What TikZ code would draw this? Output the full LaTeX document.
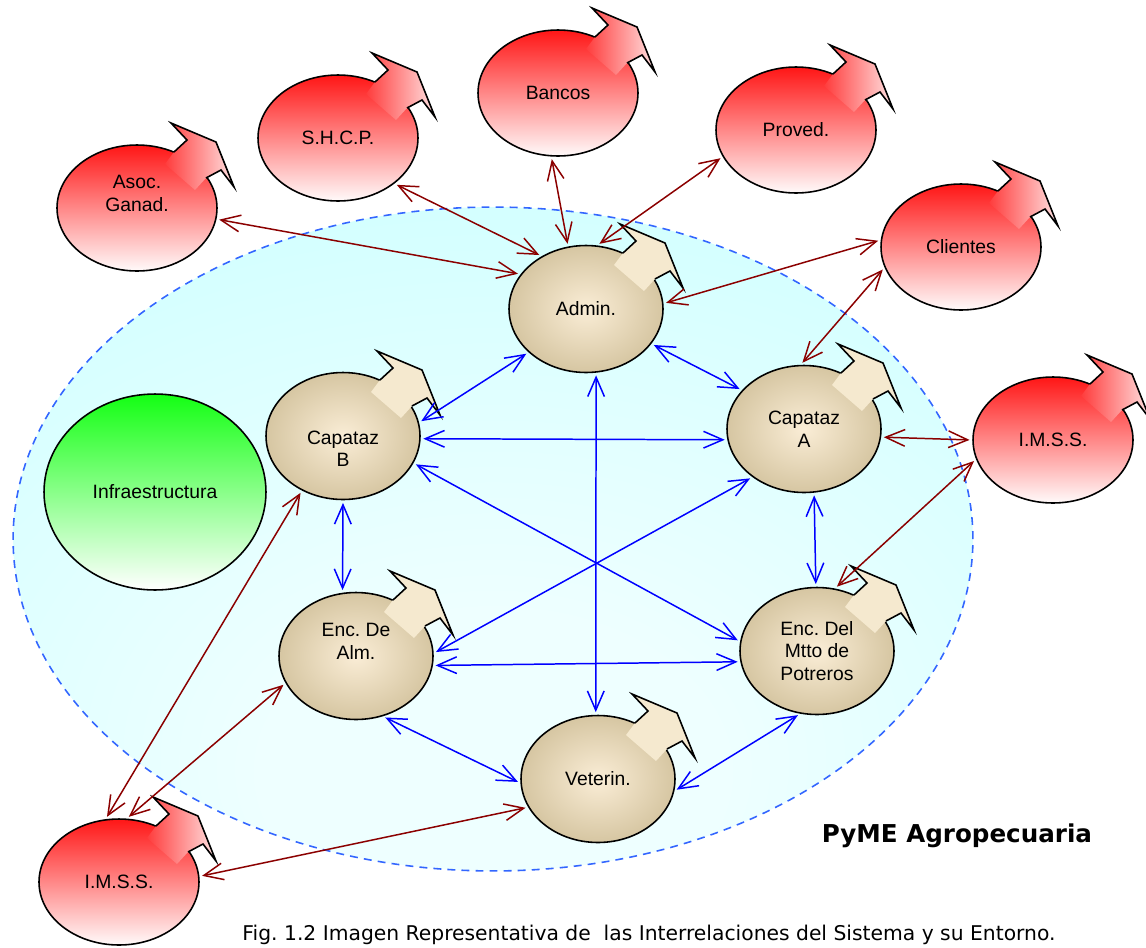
\documentclass[tikz,border=0pt]{standalone}
\usepackage{fontspec}
\setmainfont{Liberation Sans}
\newfontfamily\capfont{DejaVu Sans}
\usetikzlibrary{shapes.geometric,arrows.meta}
\frenchspacing

\definecolor{linkred}{RGB}{139,0,0}
\definecolor{linkblue}{RGB}{0,0,255}
\definecolor{pondline}{RGB}{51,102,255}
\definecolor{pondin}{RGB}{238,255,255}
\definecolor{pondout}{RGB}{204,255,255}
\definecolor{hotred}{RGB}{255,22,22}
\definecolor{palered}{RGB}{255,250,250}
\definecolor{flagred}{RGB}{255,60,60}
\definecolor{flagpink}{RGB}{255,225,225}
\definecolor{creamin}{RGB}{250,237,214}
\definecolor{creamout}{RGB}{214,198,162}
\definecolor{creamflag}{RGB}{245,233,207}
\definecolor{leafgreen}{RGB}{20,255,20}

% light water-like fill of the system boundary, brighter towards the bottom
\pgfdeclareradialshading{pond}{\pgfpoint{0bp}{-20bp}}{color(0bp)=(pondin); color(12bp)=(pondin); color(45bp)=(pondout); color(100bp)=(pondout)}

\tikzset{
  nodefont/.style={font=\fontsize{11}{13}\selectfont, align=center},
  outer/.style={ellipse, draw, line width=0.9pt, minimum width=3.2cm, minimum height=2.52cm,
    inner sep=0pt, top color=hotred, bottom color=palered, nodefont},
  inner/.style={ellipse, draw, line width=0.9pt, minimum width=3.08cm, minimum height=2.54cm,
    inner sep=0pt, inner color=creamin, outer color=creamout, nodefont},
  greenball/.style={ellipse, draw, line width=0.9pt, minimum width=4.44cm, minimum height=3.92cm,
    inner sep=0pt, top color=leafgreen, bottom color=white, nodefont},
  flagline/.style={line width=0.9pt, line join=miter},
  redflagfill/.style={left color=flagred, right color=flagpink},
  creamflagfill/.style={fill=creamflag},
  pics/redflag/.style={code={
    \path[redflagfill] (28,-44) -- (37,-56) -- (50,-68) -- (34,-85) -- (79,-66) -- (97,-21) -- (84,-38) -- (69,-30) -- (58,-18) -- cycle;
    \draw[flagline] (37,-56) -- (50,-68) -- (34,-85) -- (79,-66) -- (97,-21) -- (84,-38) -- (69,-30);
  }},
  pics/creamflag/.style={code={
    \path[creamflagfill] (28,-44) -- (37,-56) -- (50,-68) -- (34,-85) -- (79,-66) -- (97,-21) -- (84,-38) -- (69,-30) -- (58,-18) -- cycle;
    \draw[flagline] (37,-56) -- (50,-68) -- (34,-85) -- (79,-66) -- (97,-21) -- (84,-38) -- (69,-30);
  }},
  link/.style={line width=0.85pt, {Straight Barb[length=11pt, width=9.5pt]}-{Straight Barb[length=11pt, width=9.5pt]},
    shorten <=1.5pt, shorten >=1.5pt},
  rlink/.style={link, draw=linkred},
  blink/.style={link, draw=linkblue}
}

\begin{document}
\begin{tikzpicture}[x=0.02cm, y=-0.02cm]
\useasboundingbox (0,0) rectangle (1146,947);

% system boundary
\path[shading=pond, shade, draw=pondline, line width=0.9pt, dash pattern=on 4.5pt off 3.5pt]
  (493,539) ellipse [x radius=9.6cm, y radius=6.64cm];

% environment
\node[outer] (asoc) at (137,208) {Asoc.\\Ganad.\\\strut};
\pic at (asoc.center) {redflag};
\node[outer] (shcp) at (338,138) {S.H.C.P.};
\pic at (shcp.center) {redflag};
\node[outer] (bancos) at (558,93) {Bancos};
\pic at (bancos.center) {redflag};
\node[outer] (proved) at (796,130) {Proved.};
\pic at (proved.center) {redflag};
\node[outer] (clientes) at (961,247) {Clientes};
\pic at (clientes.center) {redflag};
\node[outer] (imssR) at (1053,440) {I.M.S.S.};
\pic at (imssR.center) {redflag};
\node[outer] (imssB) at (119,882) {I.M.S.S.};
\pic at (imssB.center) {redflag};

% inside the system
\node[greenball] (infra) at (155,492) {Infraestructura};
\node[inner] (admin) at (586,309) {Admin.};
\pic at (admin.center) {creamflag};
\node[inner] (capB) at (343,436) {\strut\\Capataz\\B};
\pic at (capB.center) {creamflag};
\node[inner] (capA) at (804,429) {Capataz\\A};
\pic at (capA.center) {creamflag};
\node[inner] (encAlm) at (356,656) {Enc. De\\Alm.\\\strut};
\pic at (encAlm.center) {creamflag};
\node[inner] (encMtto) at (817,651) {Enc. Del\\Mtto de\\Potreros};
\pic at (encMtto.center) {creamflag};
\node[inner] (veterin) at (598,779) {Veterin.};
\pic at (veterin.center) {creamflag};

% relations with the environment
\draw[rlink] (asoc.-8.2) -- (admin.152.5);
\draw[rlink] (shcp.-39.7) -- (admin.130.8);
\draw[rlink] (bancos.-96.3) -- (admin.106.9);
\draw[rlink] (proved.-160.2) -- (admin.80.1);
\draw[rlink] (clientes.175.6) -- (admin.4.9);
\draw[rlink] (clientes.-165.8) -- (capA.93.2);
\draw[rlink] (imssR.180) -- (capA.-6.2);
\draw[rlink] (imssR.-166.5) -- (encMtto.74.6);
\draw[rlink] (imssB.102.2) -- (capB.-127.1);
\draw[rlink] (imssB.83.8) -- (encAlm.-159.7);
\draw[rlink] (imssB.4.5) -- (veterin.-158.3);

% internal relations
\draw[blink] (admin.-143.1) -- (capB.10.7);
\draw[blink] (admin.-28.4) -- (capA.148.2);
\draw[blink] (admin.-81.9) -- (veterin.92.4);
\draw[blink] (capB.-2.7) -- (capA.-172.1);
\draw[blink] (capB.-21.8) -- (encMtto.173.5);
\draw[blink] (capA.-137.8) -- (encAlm.2.9);
\draw[blink] (capB.-90.8) -- (encAlm.102);
\draw[blink] (capA.-81.2) -- (encMtto.91.6);
\draw[blink] (encAlm.-7.6) -- (encMtto.-172.4);
\draw[blink] (encAlm.-66.2) -- (veterin.-177.5);
\draw[blink] (veterin.-9.7) -- (encMtto.-105.7);

% titles
\node[font=\capfont\bfseries\fontsize{14}{17}\selectfont] (title) at (957,836) {PyME Agropecuaria};
\node[font=\capfont\fontsize{11.55}{14}\selectfont] (caption) at (649,935)
  {Fig. 1.2 Imagen Representativa de\ \ las Interrelaciones del Sistema y su Entorno.};
\end{tikzpicture}
\end{document}
